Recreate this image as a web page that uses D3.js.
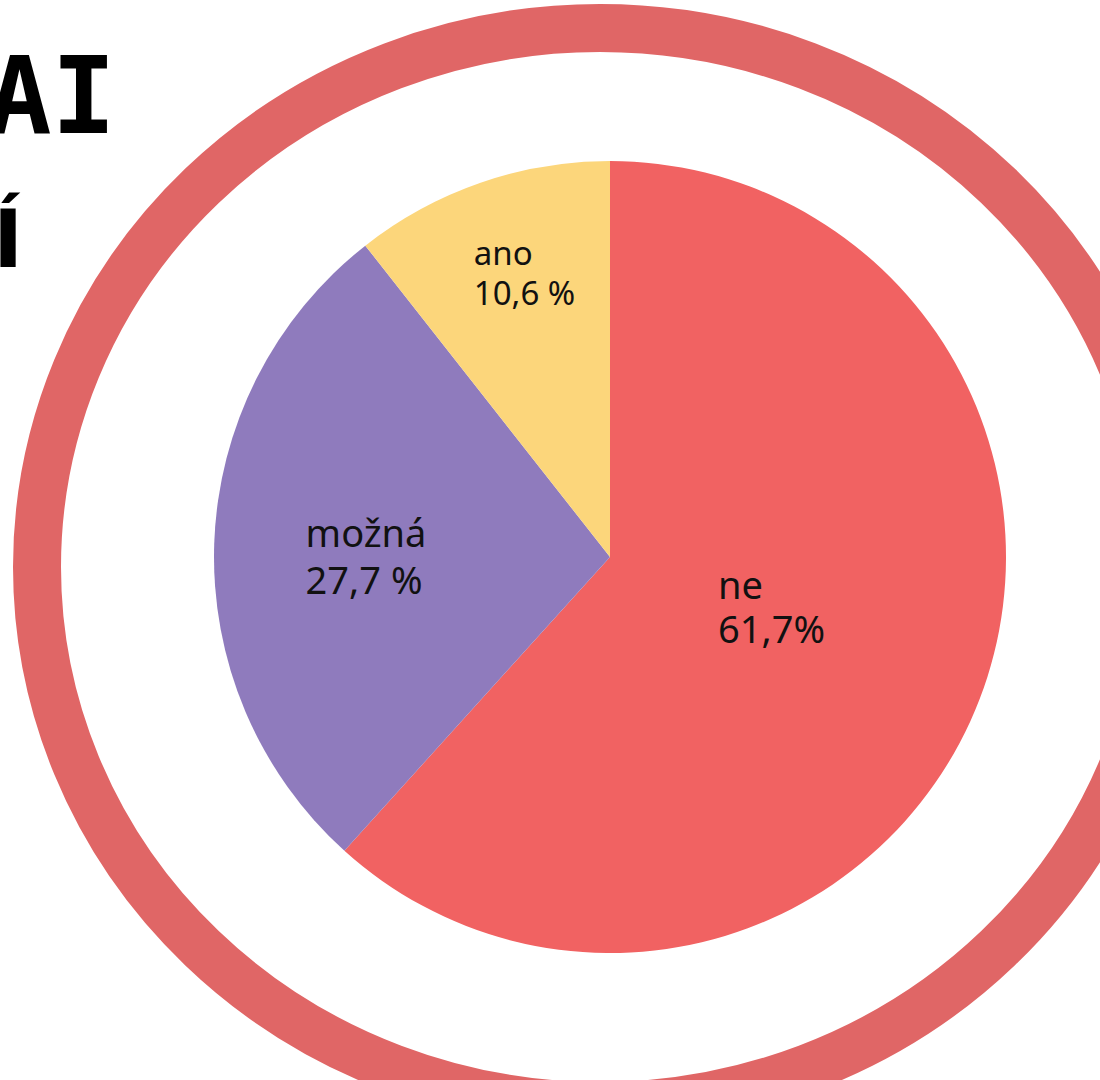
<!DOCTYPE html>
<html>
<head>
<meta charset="utf-8">
<script src="https://cdn.jsdelivr.net/npm/d3@7"></script>
<style>
  html, body { margin: 0; padding: 0; background: #ffffff; }
  svg { display: block; }
</style>
</head>
<body>
<svg id="chart" width="1100" height="1080"></svg>
<script>
// ---- data ----
const categories = ["ne", "možná", "ano"];
const values = [61.7, 27.7, 10.6];
const valueLabels = ["61,7%", "27,7 %", "10,6 %"];
const titleLines = ["AI", "Í"];

// ---- style / layout ----
const colors = { "ne": "#f16262", "možná": "#8f7bbd", "ano": "#fcd67b" };
const labelLayout = {
  "ne":    { r: 169, dAngle: -3.9, size: 38, gap: 44 },
  "možná": { r: 244, dAngle: -1.9, size: 38, gap: 47 },
  "ano":   { r: 296, dAngle: 2.3,  size: 33, gap: 40 }
};

const svg = d3.select("#chart");
const W = 1100, H = 1080;

// decorative ring
svg.append("ellipse")
  .attr("cx", 600).attr("cy", 567)
  .attr("rx", 563).attr("ry", 539)
  .attr("fill", "none")
  .attr("stroke", "#e06666")
  .attr("stroke-width", 48);

// title fragments (cropped at left edge)
svg.append("text")
  .attr("x", 116).attr("y", 133)
  .attr("text-anchor", "end")
  .attr("font-family", "DejaVu Sans Mono")
  .attr("font-weight", "bold")
  .attr("font-size", 107)
  .attr("fill", "#000")
  .text(titleLines[0]);
svg.append("text")
  .attr("x", -7).attr("y", 267)
  .attr("font-family", "DejaVu Sans")
  .attr("font-weight", "bold")
  .attr("font-size", 81)
  .attr("fill", "#000")
  .text(titleLines[1]);

// pie
const cx = 610, cy = 557, R = 396;
const data = categories.map((c, i) => ({ cat: c, value: values[i], label: valueLabels[i] }));
const pie = d3.pie().sort(null).value(d => d.value);
const arcs = pie(data);
const arc = d3.arc().innerRadius(0).outerRadius(R);

const g = svg.append("g").attr("transform", `translate(${cx},${cy})`);
g.selectAll("path.slice")
  .data(arcs)
  .join("path")
  .attr("class", "slice")
  .attr("d", arc)
  .attr("fill", d => colors[d.data.cat]);

// labels
arcs.forEach(a => {
  const L = labelLayout[a.data.cat];
  const mid = (a.startAngle + a.endAngle) / 2 + L.dAngle * Math.PI / 180;
  const px = Math.sin(mid) * L.r;
  const py = -Math.cos(mid) * L.r;
  const t = g.append("text")
    .attr("font-family", "Noto Sans")
    .attr("font-size", L.size)
    .attr("fill", "#111");
  const b1 = py - L.gap / 2 + 0.36 * L.size;
  const s1 = t.append("tspan").attr("y", b1).text(a.data.cat);
  const s2 = t.append("tspan").attr("y", b1 + L.gap).text(a.data.label);
  const w = Math.max(s1.node().getComputedTextLength(), s2.node().getComputedTextLength());
  const left = px - w / 2;
  s1.attr("x", left);
  s2.attr("x", left);
});
</script>
</body>
</html>
